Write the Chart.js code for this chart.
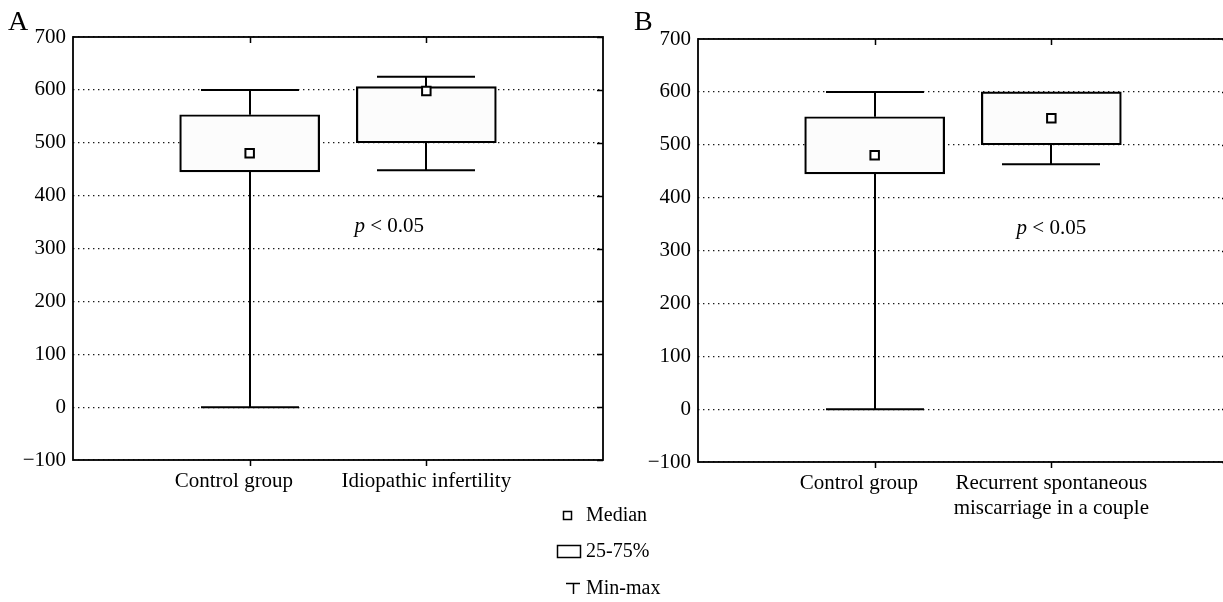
<!DOCTYPE html>
<html>
<head>
<meta charset="utf-8">
<script src="https://cdn.jsdelivr.net/npm/chart.js@4.4.0/dist/chart.umd.min.js"></script>
<style>
    html, body { margin: 0; padding: 0; background: #fff; overflow: hidden; width: 1223px; height: 602px; }
    canvas { position: absolute; top: 0; }
    #chartA { left: 0; }
    #chartB { left: 612px; }
</style>
</head>
<body>
<canvas id="chartA" width="680" height="602"></canvas>
<canvas id="chartB" width="625" height="602"></canvas>
<script>
// Veriler
const categoriesA = ['Control group', 'Idiopathic infertility'];
const categoriesB = ['Control group', ['Recurrent spontaneous', 'miscarriage in a couple']];
const yTickValues = [-100, 0, 100, 200, 300, 400, 500, 600, 700];

// Panel A
const minA = [0, 448];
const q1A = [445, 500];
const medianA = [480, 598];
const q3A = [553, 606];
const maxA = [600, 625];

// Panel B
const minB = [0, 463];
const q1B = [445, 500];
const medianB = [480, 550];
const q3B = [553, 600];
const maxB = [600, 600];

const pText = 'p';
const pRest = ' < 0.05';
const legendLabels = ['Median', '25-75%', 'Min-max'];

const SERIF = '"Liberation Serif", "Times New Roman", serif';

// Bıyıklar (min-max)
const whiskerPlugin = {
    id: 'whiskers',
    afterDatasetsDraw(chart) {
        const cfg = chart.options.plugins.whiskers;
        const { ctx, scales: { x, y } } = chart;
        ctx.save();
        ctx.strokeStyle = '#000';
        ctx.lineWidth = 2;
        cfg.min.forEach((mn, i) => {
            const px = Math.round(x.getPixelForValue(i + 1));
            const pairs = [[cfg.q3[i], cfg.max[i]], [cfg.q1[i], mn]];
            pairs.forEach(([from, to]) => {
                if (from === to) return;
                const y1 = y.getPixelForValue(from);
                const y2 = y.getPixelForValue(to);
                ctx.beginPath();
                ctx.moveTo(px, y1);
                ctx.lineTo(px, y2);
                ctx.moveTo(px - cfg.capHalf, y2);
                ctx.lineTo(px + cfg.capHalf, y2);
                ctx.stroke();
            });
        });
        ctx.restore();
    }
};

// Çerçeve, tik işaretleri, p değeri, harf
const framePlugin = {
    id: 'frame',
    afterDraw(chart) {
        const cfg = chart.options.plugins.frame;
        const { ctx, chartArea: a, scales: { x, y } } = chart;
        ctx.save();
        ctx.strokeStyle = '#000';
        ctx.lineWidth = 1.8;
        ctx.strokeRect(a.left, a.top, a.right - a.left, a.bottom - a.top);
        ctx.beginPath();
        ctx.lineWidth = 1.5;
        [1, 2].forEach(v => {
            const px = Math.round(x.getPixelForValue(v)) + 0.5;
            ctx.moveTo(px, a.bottom);
            ctx.lineTo(px, a.bottom + 6);
            ctx.moveTo(px, a.top);
            ctx.lineTo(px, a.top + 6);
        });
        yTickValues.forEach(v => {
            const py = Math.round(y.getPixelForValue(v)) + 0.5;
            ctx.moveTo(a.right - 6, py);
            ctx.lineTo(a.right, py);
        });
        ctx.stroke();

        // p < 0.05
        ctx.fillStyle = '#000';
        ctx.textBaseline = 'middle';
        ctx.textAlign = 'left';
        ctx.font = 'italic 21px ' + SERIF;
        const w1 = ctx.measureText(pText).width;
        ctx.font = '21px ' + SERIF;
        const w2 = ctx.measureText(pRest).width;
        const cx = x.getPixelForValue(cfg.pX);
        const cy = y.getPixelForValue(cfg.pY);
        const sx = cx - (w1 + w2) / 2;
        ctx.font = 'italic 21px ' + SERIF;
        ctx.fillText(pText, sx, cy);
        ctx.font = '21px ' + SERIF;
        ctx.fillText(pRest, sx + w1, cy);

        // Panel harfi
        ctx.textBaseline = 'alphabetic';
        ctx.font = '28px ' + SERIF;
        ctx.fillText(cfg.letter, cfg.letterX, 30);

        // Açıklama (sadece A panelinde)
        if (cfg.legend) {
            ctx.lineWidth = 1.5;
            ctx.strokeRect(563.5, 511.5, 8, 8);
            ctx.strokeRect(557.5, 545.5, 23, 12);
            ctx.beginPath();
            ctx.moveTo(566, 583.5);
            ctx.lineTo(580, 583.5);
            ctx.moveTo(573.5, 583.5);
            ctx.lineTo(573.5, 594);
            ctx.stroke();
            ctx.font = '20px ' + SERIF;
            ctx.fillText(legendLabels[0], 586, 521);
            ctx.fillText(legendLabels[1], 586, 557);
            ctx.fillText(legendLabels[2], 586, 594);
        }
        ctx.restore();
    }
};

function makeBoxChart(canvasId, d) {
    return new Chart(document.getElementById(canvasId), {
        type: 'bar',
        data: {
            datasets: [
                {
                    type: 'bar',
                    data: d.q1.map((q, i) => ({ x: i + 1, y: [q, d.q3[i]] })),
                    backgroundColor: '#fcfcfc',
                    borderColor: '#000',
                    borderWidth: 2.2,
                    borderSkipped: false,
                    barThickness: 140,
                    order: 2
                },
                {
                    type: 'scatter',
                    data: d.median.map((m, i) => ({ x: i + 1, y: m })),
                    pointStyle: 'rect',
                    radius: 6,
                    borderWidth: 2,
                    borderColor: '#000',
                    backgroundColor: '#fff',
                    order: 1
                }
            ]
        },
        options: {
            responsive: false,
            animation: false,
            layout: { padding: { left: d.padLeft, top: d.padTop, right: d.padRight, bottom: 0 } },
            plugins: {
                legend: { display: false },
                tooltip: { enabled: false },
                whiskers: { min: d.min, q1: d.q1, q3: d.q3, max: d.max, capHalf: 49 },
                frame: { pX: d.pX, pY: 342, letter: d.letter, letterX: d.letterX, legend: d.legend }
            },
            scales: {
                x: {
                    type: 'linear',
                    min: 0,
                    max: 3,
                    offset: false,
                    afterBuildTicks: s => { s.ticks = [{ value: 1 }, { value: 2 }]; },
                    afterFit: s => { s.height = d.xHeight; },
                    grid: { display: false, drawTicks: false },
                    border: { display: false },
                    ticks: {
                        callback: v => d.labels[v - 1],
                        font: { family: SERIF, size: 21 },
                        color: '#000',
                        padding: 9,
                        maxRotation: 0,
                        autoSkip: false
                    }
                },
                y: {
                    min: -100,
                    max: 700,
                    afterFit: s => { s.width = 50; },
                    grid: { color: '#1a1a1a', lineWidth: 1.2, drawTicks: false },
                    border: { display: false, dash: [1.4, 3.6] },
                    ticks: {
                        stepSize: 100,
                        callback: v => v < 0 ? '\u2212' + Math.abs(v) : String(v),
                        font: { family: SERIF, size: 21 },
                        color: '#000',
                        padding: 7
                    }
                }
            }
        },
        plugins: [whiskerPlugin, framePlugin]
    });
}

// Kontrol etiketi biraz sola kaymış, boşlukla hizalanıyor
const pad = '      ';

makeBoxChart('chartA', {
    labels: [categoriesA[0] + pad, categoriesA[1]],
    min: minA, q1: q1A, median: medianA, q3: q3A, max: maxA,
    padLeft: 23, padTop: 37, padRight: 77, xHeight: 142,
    pX: 1.79, letter: 'A', letterX: 8, legend: true
});

makeBoxChart('chartB', {
    labels: [categoriesB[0] + pad, categoriesB[1]],
    min: minB, q1: q1B, median: medianB, q3: q3B, max: maxB,
    padLeft: 36, padTop: 39, padRight: 9, xHeight: 140,
    pX: 2.0, letter: 'B', letterX: 22, legend: false
});
</script>
</body>
</html>
